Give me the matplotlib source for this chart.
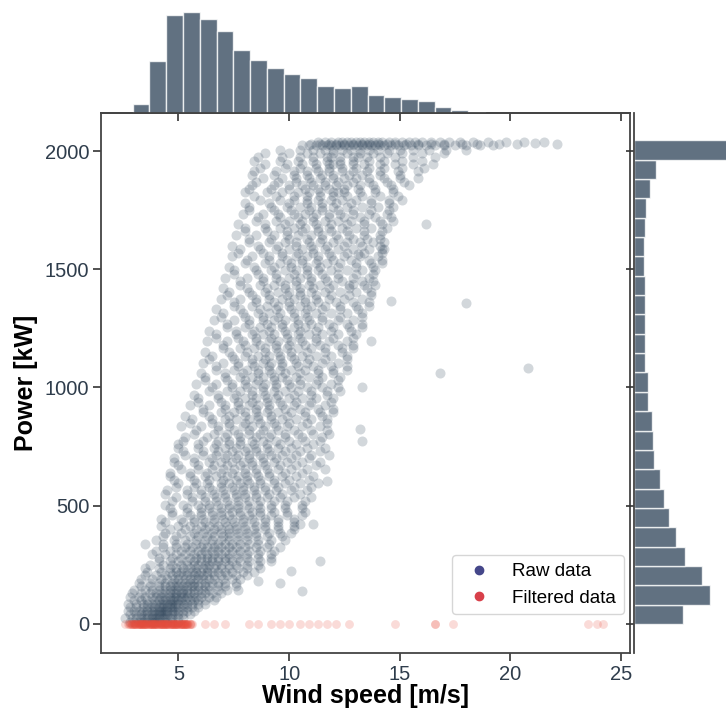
import numpy as np
import matplotlib.pyplot as plt
from matplotlib.lines import Line2D

plt.rcParams['font.family'] = ['Liberation Sans', 'DejaVu Sans']

# marginal histograms
wind_bin_start = 2.93
wind_bin_width = 0.758
wind_counts = [160, 940, 1760, 1830, 1700, 1480, 1140, 950, 820, 700, 640,
               480, 450, 480, 320, 290, 250, 210, 100, 55, 12]

power_bin_start = 0.0
power_bin_width = 81.8
power_counts = [1035, 1596, 1434, 1077, 888, 729, 624, 546, 420, 399, 384, 288,
                288, 237, 237, 225, 225, 225, 204, 216, 237, 252, 336, 462, 2121]

# raw data, read row by row off the cloud (power level -> wind speeds)
power_rows = [10, 40, 70, 100, 130, 160, 190, 220, 250, 280, 310, 340, 370, 400,
              430, 460, 490, 520, 550, 580, 610, 640, 670, 700, 730, 760, 790,
              820, 850, 880, 910, 940, 970, 1000, 1030, 1060, 1090, 1120, 1150,
              1180, 1210, 1240, 1270, 1300, 1330, 1360, 1390, 1420, 1450, 1480,
              1510, 1540, 1570, 1600, 1630, 1660, 1690, 1720, 1750, 1780, 1810,
              1840, 1870, 1900, 1930, 1960, 1990, 2025, 2038]
wind_rows = [
    [2.8, 3.0, 3.2, 3.3, 3.4, 3.6, 3.7, 3.8, 3.9, 4.0, 4.1, 4.2, 4.4, 4.5, 4.7, 5.0],
    [2.8, 3.1, 3.3, 3.5, 3.6, 3.8, 3.9, 4.0, 4.1, 4.2, 4.3, 4.4, 4.5, 4.7, 4.8, 5.0, 5.2, 5.5],
    [2.8, 3.1, 3.4, 3.6, 3.8, 3.9, 4.1, 4.2, 4.3, 4.5, 4.6, 4.7, 4.8, 5.0, 5.2, 5.4, 5.6, 5.9],
    [3.0, 3.3, 3.6, 3.9, 4.1, 4.3, 4.4, 4.6, 4.7, 4.8, 5.0, 5.1, 5.3, 5.5, 5.7, 5.9, 6.2, 6.6],
    [2.9, 3.3, 3.7, 4.0, 4.2, 4.4, 4.6, 4.8, 4.9, 5.1, 5.2, 5.4, 5.5, 5.7, 6.0, 6.2, 6.5, 6.9],
    [3.3, 3.7, 4.1, 4.4, 4.6, 4.8, 5.0, 5.2, 5.4, 5.6, 5.7, 5.9, 6.2, 6.4, 6.8, 7.1, 7.6],
    [3.3, 3.8, 4.2, 4.5, 4.8, 5.0, 5.3, 5.5, 5.7, 5.9, 6.1, 6.4, 6.6, 7.0, 7.4, 7.8],
    [3.6, 4.2, 4.6, 4.9, 5.1, 5.4, 5.6, 5.8, 6.0, 6.3, 6.5, 6.8, 7.1, 7.4, 7.9, 8.4],
    [3.7, 4.3, 4.7, 5.1, 5.4, 5.7, 5.9, 6.2, 6.4, 6.7, 6.9, 7.3, 7.6, 8.1, 8.6],
    [4.1, 4.7, 5.1, 5.5, 5.8, 6.0, 6.3, 6.5, 6.8, 7.1, 7.3, 7.7, 8.1, 8.6, 9.2],
    [4.0, 4.6, 5.1, 5.5, 5.9, 6.2, 6.5, 6.8, 7.1, 7.4, 7.8, 8.2, 8.7, 9.3],
    [3.5, 4.3, 4.9, 5.4, 5.8, 6.1, 6.5, 6.8, 7.1, 7.4, 7.8, 8.2, 8.6, 9.1],
    [4.3, 4.9, 5.5, 5.9, 6.3, 6.6, 7.0, 7.3, 7.7, 8.1, 8.5, 9.0, 9.7],
    [4.6, 5.3, 5.8, 6.2, 6.6, 6.9, 7.3, 7.6, 8.0, 8.4, 8.9, 9.5, 10.2],
    [4.4, 5.2, 5.7, 6.2, 6.6, 7.1, 7.5, 7.9, 8.4, 8.9, 9.5, 10.2],
    [4.7, 5.5, 6.0, 6.5, 6.9, 7.3, 7.8, 8.2, 8.7, 9.2, 9.9, 10.6],
    [4.6, 5.4, 6.0, 6.4, 6.9, 7.3, 7.7, 8.2, 8.7, 9.2, 9.8, 10.6],
    [4.7, 5.6, 6.2, 6.7, 7.2, 7.7, 8.2, 8.7, 9.3, 9.9, 10.7],
    [4.4, 5.4, 6.0, 6.6, 7.1, 7.6, 8.0, 8.5, 9.1, 9.7, 10.5],
    [4.9, 5.7, 6.4, 6.9, 7.4, 7.9, 8.4, 8.9, 9.5, 10.2, 11.0],
    [4.8, 5.7, 6.4, 7.0, 7.6, 8.1, 8.7, 9.3, 10.0, 10.9],
    [4.6, 5.5, 6.3, 6.9, 7.4, 8.0, 8.5, 9.1, 9.8, 10.6],
    [5.0, 5.9, 6.6, 7.2, 7.8, 8.3, 8.9, 9.6, 10.3, 11.2],
    [4.8, 5.7, 6.5, 7.1, 7.6, 8.2, 8.8, 9.4, 10.1, 10.9],
    [5.2, 6.1, 6.8, 7.4, 8.0, 8.5, 9.1, 9.8, 10.5, 11.4],
    [5.0, 5.9, 6.7, 7.3, 7.8, 8.4, 9.0, 9.6, 10.3, 11.1],
    [5.3, 6.3, 7.1, 7.8, 8.5, 9.1, 9.8, 10.6, 11.5],
    [5.8, 6.8, 7.5, 8.2, 8.8, 9.5, 10.2, 11.0, 11.7],
    [5.5, 6.5, 7.3, 8.0, 8.7, 9.3, 10.0, 10.8, 11.7],
    [5.3, 6.4, 7.3, 8.0, 8.6, 9.2, 9.9, 10.7, 11.5],
    [6.1, 7.1, 7.8, 8.5, 9.1, 9.8, 10.5, 11.3, 12.0],
    [5.9, 6.9, 7.7, 8.3, 9.0, 9.6, 10.3, 11.0, 11.9],
    [5.7, 6.8, 7.6, 8.3, 8.9, 9.5, 10.2, 11.0, 11.7],
    [6.5, 7.4, 8.1, 8.8, 9.4, 10.1, 10.8, 11.5, 12.2],
    [6.2, 7.2, 8.0, 8.6, 9.3, 9.9, 10.5, 11.3, 12.2],
    [6.0, 7.1, 7.9, 8.6, 9.2, 9.8, 10.5, 11.3, 12.0],
    [6.7, 7.7, 8.4, 9.1, 9.7, 10.4, 11.1, 11.9, 12.6],
    [6.4, 7.5, 8.3, 8.9, 9.6, 10.2, 10.9, 11.6, 12.6],
    [6.2, 7.3, 8.1, 8.9, 9.5, 10.1, 10.8, 11.6, 12.4],
    [7.0, 8.0, 8.7, 9.4, 10.0, 10.7, 11.4, 12.2, 12.9],
    [6.7, 7.7, 8.5, 9.2, 9.9, 10.5, 11.2, 12.0, 12.9],
    [6.4, 7.6, 8.4, 9.1, 9.8, 10.5, 11.2, 11.9, 12.8],
    [7.2, 8.2, 9.0, 9.7, 10.4, 11.0, 11.8, 12.6, 13.3],
    [6.9, 8.0, 8.8, 9.5, 10.2, 10.8, 11.5, 12.3, 13.3],
    [6.7, 7.8, 8.7, 9.4, 10.1, 10.8, 11.5, 12.3, 13.1],
    [7.5, 8.5, 9.3, 10.0, 10.7, 11.3, 12.1, 12.9, 13.6],
    [7.2, 8.3, 9.1, 9.9, 10.5, 11.2, 11.9, 12.7, 13.7],
    [7.0, 8.1, 9.0, 9.8, 10.5, 11.1, 11.8, 12.7, 13.5],
    [7.8, 8.8, 9.6, 10.3, 11.0, 11.7, 12.4, 13.3, 13.8],
    [7.5, 8.6, 9.4, 10.2, 10.8, 11.5, 12.2, 13.0, 13.8],
    [7.3, 8.4, 9.3, 10.1, 10.8, 11.4, 12.2, 13.0, 13.8],
    [8.1, 9.1, 9.9, 10.6, 11.3, 12.0, 12.8, 13.6, 14.2],
    [7.7, 8.8, 9.7, 10.4, 11.1, 11.8, 12.6, 13.4, 14.2],
    [7.4, 8.6, 9.5, 10.3, 11.0, 11.7, 12.5, 13.3, 14.1],
    [8.2, 9.2, 10.0, 10.8, 11.5, 12.2, 12.9, 13.5, 14.1],
    [8.0, 9.0, 9.9, 10.6, 11.3, 11.9, 12.6, 13.4, 14.2],
    [7.7, 8.9, 9.8, 10.5, 11.2, 11.9, 12.6, 13.4, 14.2],
    [8.6, 9.6, 10.4, 11.1, 11.8, 12.5, 13.2, 13.9, 14.6],
    [8.2, 9.3, 10.1, 10.9, 11.5, 12.2, 12.9, 13.7, 14.5],
    [8.0, 9.1, 10.0, 10.8, 11.5, 12.1, 12.8, 13.7, 14.5],
    [8.4, 9.4, 10.2, 10.8, 11.4, 12.0, 12.6, 13.3, 14.1, 14.9],
    [8.2, 9.2, 10.0, 10.7, 11.3, 11.8, 12.5, 13.1, 13.9, 14.7],
    [8.5, 9.5, 10.3, 11.0, 11.6, 12.2, 12.9, 13.6, 14.4, 15.2],
    [8.3, 9.3, 10.2, 10.8, 11.5, 12.0, 12.7, 13.3, 14.1, 15.0],
    [8.7, 9.8, 10.5, 11.2, 11.8, 12.4, 13.0, 13.6, 14.3, 15.1, 16.1],
    [8.4, 9.6, 10.4, 11.1, 11.7, 12.3, 12.9, 13.6, 14.3, 15.1, 16.0],
    [8.9, 10.0, 10.8, 11.4, 12.0, 12.6, 13.2, 13.8, 14.4, 15.1, 16.0, 17.0],
    [10.6, 10.9, 11.2, 11.5, 11.7, 11.9, 12.1, 12.3, 12.5, 12.7, 12.9, 13.1, 13.3, 13.5,
     13.7, 13.9, 14.1, 14.3, 14.6, 14.9, 15.2, 15.5, 15.8, 16.2, 16.6, 17.0, 17.5, 18.0,
     18.6, 19.2],
    [11.3, 11.6, 11.9, 12.2, 12.4, 12.6, 12.8, 13.0, 13.2, 13.4, 13.6, 13.8, 14.0, 14.2,
     14.5, 14.8, 15.1, 15.4, 15.7, 16.0, 16.4, 16.8, 17.2, 17.7, 18.3, 19.0, 19.8, 20.6,
     21.5],
]

# second pass over the cloud, between the rows above
power_rows_b = [25, 55, 85, 115, 145, 175, 205, 235, 265, 295, 325, 355, 385, 415,
                445, 475, 505, 535, 565, 595, 625, 655, 685, 715, 745, 775, 805,
                835, 865, 895, 925, 955, 985, 1015, 1045, 1075, 1105, 1135, 1165,
                1195, 1225, 1255, 1285, 1315, 1345, 1375, 1405, 1435, 1465, 1495,
                1525, 1555, 1585, 1615, 1645, 1675, 1705, 1735, 1765, 1795, 1825,
                1855, 1885, 1915, 1945, 1975, 2005, 2031]
wind_rows_b = [
    [2.6, 2.9, 3.1, 3.3, 3.5, 3.6, 3.8, 3.9, 4.0, 4.1, 4.3, 4.4, 4.6, 4.7, 5.0, 5.2],
    [2.7, 3.0, 3.2, 3.4, 3.6, 3.8, 3.9, 4.1, 4.2, 4.3, 4.4, 4.5, 4.7, 4.8, 5.0, 5.2, 5.4, 5.7],
    [2.7, 3.1, 3.4, 3.6, 3.8, 4.0, 4.2, 4.3, 4.5, 4.6, 4.7, 4.9, 5.0, 5.2, 5.4, 5.6, 5.9, 6.2],
    [2.8, 3.2, 3.5, 3.8, 4.0, 4.2, 4.4, 4.6, 4.8, 4.9, 5.1, 5.2, 5.4, 5.6, 5.8, 6.0, 6.4, 6.7],
    [3.0, 3.5, 3.8, 4.1, 4.4, 4.6, 4.8, 5.0, 5.2, 5.4, 5.7, 5.9, 6.1, 6.4, 6.8, 7.2, 7.7],
    [3.2, 3.7, 4.1, 4.4, 4.7, 4.9, 5.1, 5.3, 5.5, 5.7, 6.0, 6.2, 6.5, 6.8, 7.1, 7.6],
    [3.5, 4.0, 4.4, 4.7, 5.0, 5.2, 5.4, 5.7, 5.9, 6.1, 6.3, 6.6, 6.9, 7.2, 7.6, 8.1],
    [3.5, 4.1, 4.6, 4.9, 5.2, 5.5, 5.8, 6.1, 6.3, 6.6, 6.9, 7.3, 7.7, 8.1, 8.7],
    [4.1, 4.6, 5.0, 5.4, 5.7, 6.0, 6.3, 6.5, 6.8, 7.1, 7.4, 7.8, 8.2, 8.7, 9.2],
    [3.8, 4.4, 4.9, 5.3, 5.7, 6.0, 6.3, 6.6, 6.9, 7.3, 7.7, 8.1, 8.6, 9.2],
    [4.3, 4.9, 5.3, 5.6, 6.0, 6.3, 6.6, 6.9, 7.3, 7.6, 8.0, 8.5, 9.0, 9.6],
    [4.0, 4.8, 5.3, 5.8, 6.2, 6.5, 6.9, 7.3, 7.7, 8.1, 8.6, 9.2, 9.8],
    [4.4, 5.1, 5.7, 6.1, 6.5, 6.9, 7.3, 7.7, 8.1, 8.5, 9.1, 9.6, 10.1],
    [4.2, 5.0, 5.5, 6.0, 6.4, 6.8, 7.2, 7.6, 8.0, 8.5, 8.9, 9.5, 10.2],
    [4.2, 5.1, 5.7, 6.1, 6.6, 7.0, 7.4, 7.9, 8.3, 8.9, 9.5, 10.2],
    [4.7, 5.4, 6.0, 6.5, 6.9, 7.4, 7.8, 8.3, 8.7, 9.3, 9.9, 10.7],
    [4.4, 5.2, 5.9, 6.4, 6.8, 7.3, 7.7, 8.1, 8.6, 9.2, 9.8, 10.6],
    [4.9, 5.6, 6.2, 6.7, 7.1, 7.6, 8.0, 8.5, 9.0, 9.6, 10.2, 11.0],
    [4.5, 5.4, 6.0, 6.5, 7.0, 7.5, 7.9, 8.4, 8.9, 9.4, 10.1, 10.8],
    [5.0, 5.8, 6.3, 6.9, 7.3, 7.8, 8.2, 8.7, 9.3, 9.8, 10.5, 11.3],
    [4.6, 5.5, 6.2, 6.7, 7.2, 7.7, 8.1, 8.6, 9.1, 9.7, 10.3, 11.1],
    [5.1, 5.9, 6.5, 7.0, 7.5, 8.0, 8.5, 9.0, 9.5, 10.1, 10.8, 11.6],
    [4.8, 5.7, 6.4, 6.9, 7.4, 7.9, 8.3, 8.8, 9.3, 9.9, 10.6, 11.4],
    [5.3, 6.1, 6.7, 7.2, 7.7, 8.2, 8.7, 9.2, 9.7, 10.3, 11.0, 11.8],
    [5.0, 5.9, 6.6, 7.1, 7.6, 8.1, 8.5, 9.0, 9.5, 10.1, 10.8, 11.6],
    [5.2, 6.1, 6.8, 7.3, 7.8, 8.3, 8.8, 9.4, 10.0, 10.7, 11.4],
    [5.7, 6.6, 7.2, 7.7, 8.2, 8.7, 9.2, 9.8, 10.4, 11.1, 11.8],
    [5.1, 6.0, 6.8, 7.3, 7.9, 8.3, 8.9, 9.4, 9.9, 10.6, 11.4],
    [5.6, 6.5, 7.1, 7.6, 8.2, 8.6, 9.2, 9.7, 10.3, 11.0, 11.7],
    [6.1, 6.9, 7.5, 8.0, 8.5, 9.0, 9.5, 10.1, 10.7, 11.4, 12.0],
    [5.5, 6.4, 7.1, 7.7, 8.2, 8.6, 9.1, 9.7, 10.2, 10.9, 11.6],
    [5.9, 6.8, 7.5, 8.0, 8.5, 9.0, 9.4, 10.0, 10.6, 11.2, 12.0],
    [6.4, 7.2, 7.8, 8.3, 8.8, 9.3, 9.8, 10.4, 11.0, 11.7, 12.3],
    [5.8, 6.7, 7.4, 8.0, 8.5, 8.9, 9.4, 10.0, 10.5, 11.2, 11.9],
    [6.2, 7.1, 7.8, 8.3, 8.8, 9.3, 9.7, 10.3, 10.9, 11.5, 12.3],
    [6.7, 7.5, 8.1, 8.6, 9.1, 9.6, 10.1, 10.7, 11.3, 12.0, 12.6],
    [6.1, 7.0, 7.7, 8.3, 8.8, 9.2, 9.7, 10.3, 10.8, 11.5, 12.2],
    [6.5, 7.4, 8.0, 8.6, 9.1, 9.6, 10.1, 10.6, 11.2, 11.9, 12.6],
    [7.0, 7.8, 8.4, 8.9, 9.4, 9.9, 10.4, 11.0, 11.6, 12.4, 12.9],
    [6.3, 7.2, 7.9, 8.5, 9.1, 9.5, 10.1, 10.6, 11.2, 11.8, 12.6],
    [6.7, 7.6, 8.3, 8.8, 9.3, 9.9, 10.4, 10.9, 11.5, 12.2, 13.0],
    [7.2, 8.0, 8.7, 9.2, 9.7, 10.2, 10.7, 11.3, 12.0, 12.7, 13.3],
    [6.6, 7.5, 8.2, 8.8, 9.3, 9.8, 10.4, 10.9, 11.5, 12.2, 12.9],
    [7.0, 7.9, 8.6, 9.1, 9.6, 10.2, 10.7, 11.2, 11.9, 12.6, 13.3],
    [7.5, 8.3, 9.0, 9.5, 10.0, 10.5, 11.0, 11.6, 12.3, 13.0, 13.6],
    [6.9, 7.8, 8.5, 9.1, 9.7, 10.2, 10.7, 11.2, 11.8, 12.5, 13.3],
    [7.3, 8.2, 8.9, 9.5, 10.0, 10.5, 11.0, 11.6, 12.3, 13.0, 13.7],
    [7.8, 8.7, 9.3, 9.8, 10.3, 10.9, 11.4, 12.0, 12.7, 13.4, 13.9],
    [7.1, 8.1, 8.8, 9.4, 10.0, 10.5, 11.0, 11.6, 12.2, 12.9, 13.6],
    [7.5, 8.5, 9.2, 9.8, 10.3, 10.8, 11.3, 11.9, 12.6, 13.3, 13.9],
    [8.0, 8.9, 9.6, 10.1, 10.6, 11.2, 11.7, 12.3, 13.0, 13.7, 14.2],
    [7.4, 8.3, 9.1, 9.7, 10.3, 10.8, 11.3, 11.9, 12.5, 13.2, 14.0],
    [7.8, 8.7, 9.4, 10.0, 10.6, 11.1, 11.6, 12.2, 12.9, 13.6, 14.2],
    [8.2, 9.1, 9.8, 10.3, 10.9, 11.4, 12.0, 12.6, 13.2, 13.8, 14.3],
    [7.6, 8.5, 9.3, 9.9, 10.4, 11.0, 11.5, 12.1, 12.7, 13.4, 14.1],
    [8.0, 8.9, 9.6, 10.2, 10.7, 11.3, 11.8, 12.4, 13.0, 13.7, 14.4],
    [8.5, 9.4, 10.0, 10.6, 11.1, 11.6, 12.2, 12.8, 13.4, 14.1, 14.7],
    [7.9, 8.8, 9.5, 10.2, 10.7, 11.2, 11.8, 12.3, 12.9, 13.6, 14.4],
    [8.2, 9.2, 9.9, 10.5, 11.0, 11.5, 12.0, 12.6, 13.3, 14.0, 14.7],
    [8.7, 9.6, 10.2, 10.8, 11.3, 11.9, 12.4, 13.0, 13.7, 14.5, 15.1],
    [8.0, 9.0, 9.7, 10.4, 10.9, 11.4, 12.0, 12.2, 12.5, 13.2, 13.9, 14.7],
    [8.3, 9.3, 10.0, 10.6, 11.1, 11.6, 12.1, 12.6, 13.2, 13.8, 14.6, 15.4],
    [8.8, 9.7, 10.3, 10.9, 11.4, 12.0, 12.5, 13.0, 13.6, 14.3, 15.0, 15.8],
    [8.4, 9.4, 10.2, 10.8, 11.3, 11.8, 12.4, 12.9, 13.5, 14.1, 14.9, 15.8],
    [8.9, 9.9, 10.6, 11.2, 11.8, 12.0, 12.3, 12.9, 13.4, 14.1, 14.8, 15.6, 16.5],
    [8.6, 9.7, 10.5, 11.1, 11.7, 11.9, 12.3, 12.9, 13.1, 13.5, 14.1, 14.8, 15.6, 16.6],
    [9.6, 10.5, 11.1, 11.6, 12.0, 12.4, 12.8, 13.2, 13.6, 14.0, 14.5, 15.0, 15.6, 16.3,
     17.1, 18.0],
    [11.0, 11.4, 11.8, 12.1, 12.5, 12.9, 13.3, 13.6, 14.0, 14.4, 14.8, 15.3, 15.8, 16.4,
     17.0, 17.8, 18.5, 19.5, 20.3],
]

# isolated raw points
outlier_wind = [16.2, 14.3, 14.6, 18.0, 13.7, 20.8, 16.8, 13.3, 13.2, 13.3, 13.1,
                12.9, 11.7, 10.5, 11.1, 11.4, 10.6, 10.1, 9.6, 8.6, 21.1, 22.1]
outlier_power = [1690, 1585, 1366, 1357, 1197, 1082, 1061, 1002, 825, 775, 1565,
                 1438, 605, 423, 423, 266, 139, 224, 173, 182, 2034, 2030]

# filtered data (all at 0 kW)
filtered_wind = [2.6, 2.7, 2.75, 2.8, 2.85, 2.9, 2.95, 3.0, 3.05, 3.1, 3.15, 3.2, 3.25,
                 3.3, 3.35, 3.4, 3.45, 3.5, 3.55, 3.6, 3.65, 3.7, 3.75, 3.8, 3.85, 3.9,
                 3.95, 4.0, 4.05, 4.1, 4.15, 4.2, 4.25, 4.3, 4.35, 4.4, 4.45, 4.5, 4.55,
                 4.6, 4.65, 4.7, 4.75, 4.8, 4.85, 4.9, 4.95, 5.0, 5.05, 5.1, 5.15, 5.2,
                 5.25, 5.3, 5.35, 5.4, 5.45, 5.5, 5.55, 5.6,
                 2.9, 3.0, 3.1, 3.2, 3.3, 3.4, 3.5, 3.6, 3.7, 3.8, 3.9, 4.0, 4.1, 4.2,
                 4.3, 4.4, 4.5, 4.6, 4.7, 4.8, 4.9, 5.0, 5.1, 5.2, 5.3, 5.4, 5.5,
                 3.05, 3.15, 3.25, 3.35, 3.45, 3.55, 3.65, 3.75, 3.85, 3.95, 4.05, 4.15,
                 4.25, 4.35, 4.45, 4.55, 4.65, 4.75, 4.85, 4.95, 5.05, 5.15, 5.25, 5.35,
                 6.2, 6.6, 7.1, 8.2, 8.6, 9.2, 9.6, 10.0, 10.5, 10.9, 11.3, 11.7, 12.1,
                 12.7, 14.8, 16.6, 16.6, 17.4, 23.5, 23.9, 24.2]
filtered_power = [0] * len(filtered_wind)

raw_wind = []
raw_power = []
for p, row in zip(power_rows + power_rows_b, wind_rows + wind_rows_b):
    raw_wind += row
    raw_power += [p] * len(row)
raw_wind += outlier_wind
raw_power += outlier_power

raw_color = '#34495e'
red = '#e74c3c'
label_color = '#2f3d4c'

fig = plt.figure(figsize=(7.26, 7.12), dpi=100)
ax = fig.add_axes([0.1391, 0.0829, 0.7287, 0.7584])
ax_top = fig.add_axes([0.1391, 0.8413, 0.7287, 0.1489])
ax_right = fig.add_axes([0.8733, 0.0829, 0.146, 0.7584])

ax.scatter(raw_wind, raw_power, s=52, color=raw_color, alpha=0.22,
           linewidths=0, zorder=2)
ax.scatter(filtered_wind, filtered_power, s=40, color=red, alpha=0.2,
           linewidths=0, zorder=3)

ax.set_xlim(1.5, 25.4)
ax.set_ylim(-123, 2161)
ax.set_xticks([5, 10, 15, 20, 25])
ax.set_yticks([0, 500, 1000, 1500, 2000])
ax.tick_params(labelsize=14.5, labelcolor=label_color, length=6, width=1.2,
               color='#333333', pad=2.5)
for s in ax.spines.values():
    s.set_color('#444444')
    s.set_linewidth(1.3)
ax.set_xlabel('Wind speed [m/s]', fontsize=18, fontweight='bold', labelpad=0)
ax.set_ylabel('Power [kW]', fontsize=18, fontweight='bold', labelpad=5)

handles = [Line2D([], [], marker='o', ls='', color='#45478a', markersize=6),
           Line2D([], [], marker='o', ls='', color='#d8404a', markersize=6)]
ax.legend(handles, ['Raw data', 'Filtered data'], loc='lower right',
          bbox_to_anchor=(0.988, 0.072), borderaxespad=0, fontsize=13.5,
          frameon=True, edgecolor='#cccccc', handletextpad=0.8)

# top margin: wind speed histogram
wind_edges = wind_bin_start + wind_bin_width * np.arange(len(wind_counts))
ax_top.bar(wind_edges, wind_counts, width=wind_bin_width, align='edge',
           color=raw_color, alpha=0.78, edgecolor='white', linewidth=1)
ax_top.set_xlim(ax.get_xlim())
ax_top.set_ylim(0, max(wind_counts) * 1.045)
ax_top.set_xticks([5, 10, 15, 20, 25])
ax_top.set_yticks([])
ax_top.tick_params(axis='x', labelbottom=False, length=6, width=1.2, color='#333333')
for side in ['top', 'right', 'left']:
    ax_top.spines[side].set_visible(False)
ax_top.spines['bottom'].set_color('#444444')
ax_top.spines['bottom'].set_linewidth(1.3)
ax_top.patch.set_alpha(0)

# right margin: power histogram
power_edges = power_bin_start + power_bin_width * np.arange(len(power_counts))
ax_right.barh(power_edges, power_counts, height=power_bin_width, align='edge',
              color=raw_color, alpha=0.78, edgecolor='white', linewidth=1)
ax_right.set_ylim(ax.get_ylim())
ax_right.set_xlim(0, max(power_counts) * 1.05)
ax_right.set_yticks([0, 500, 1000, 1500, 2000])
ax_right.set_xticks([])
ax_right.tick_params(axis='y', labelleft=False, length=6, width=1.2, color='#333333')
for side in ['top', 'right', 'bottom']:
    ax_right.spines[side].set_visible(False)
ax_right.spines['left'].set_color('#444444')
ax_right.spines['left'].set_linewidth(1.3)
ax_right.patch.set_alpha(0)

fig.savefig('out.png', dpi=100)
